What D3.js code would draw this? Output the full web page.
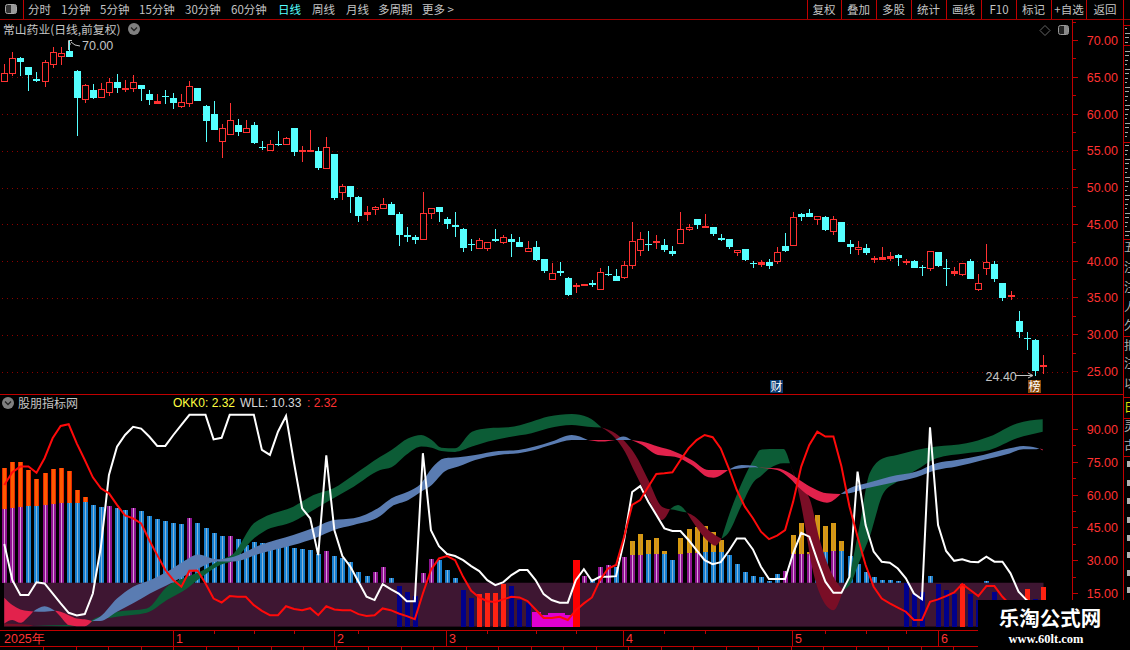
<!DOCTYPE html>
<html>
<head>
<meta charset="utf-8">
<script src="https://cdn.jsdelivr.net/npm/d3@7"></script>
<style>
  html, body { margin: 0; padding: 0; background: #000; overflow: hidden; }
  text { font-family: "Noto Sans CJK SC", sans-serif; }
  .num { font-family: "Liberation Sans", sans-serif; }
</style>
</head>
<body>
<svg id="chart" width="1130" height="650"></svg>
<script>
// candles
const openP = [64.40,65.54,67.62,66.35,64.77,64.40,66.76,67.80,68.57,65.81,61.96,63.27,62.23,62.95,64.36,63.36,63.50,63.95,62.73,61.46,62.46,62.18,61.05,61.46,63.54,61.10,60.01,56.25,57.25,58.47,57.47,58.47,55.57,55.03,55.93,55.89,58.11,54.93,54.98,54.98,52.58,54.57,49.45,50.22,48.73,46.46,47.00,47.21,47.80,46.35,43.49,43.22,42.99,46.53,47.30,45.67,44.85,44.44,42.36,41.86,41.86,42.95,42.68,42.95,42.54,41.36,41.99,40.23,37.65,38.60,37.65,36.60,36.74,36.97,36.20,38.19,38.05,37.83,39.46,41.50,42.40,42.59,42.13,41.45,42.45,44.35,45.67,44.67,44.58,43.17,42.95,41.22,41.59,39.69,39.59,39.86,39.95,42.08,42.13,46.43,46.57,45.66,46.03,44.03,45.35,42.36,41.59,41.81,40.27,40.27,40.41,40.86,39.86,40.05,39.14,39.05,41.27,39.09,38.37,38.19,40.05,36.15,39.05,39.64,37.05,35.24,31.89,29.58,29.31,25.68];
const closeP = [65.54,67.58,67.12,65.22,64.49,67.03,68.39,68.26,67.80,62.09,63.91,62.23,63.36,64.31,63.59,63.50,64.31,63.45,61.96,61.73,62.27,61.55,61.59,63.77,61.82,59.10,57.88,58.06,59.15,57.47,58.06,55.98,55.48,55.89,55.79,56.70,54.89,55.07,55.07,52.71,55.48,48.64,50.22,48.77,46.19,46.69,47.32,47.80,46.35,43.49,43.22,42.81,46.57,47.25,46.62,44.99,44.58,41.86,42.27,42.90,42.63,42.68,43.31,42.54,41.86,41.81,40.23,38.60,38.42,38.33,35.34,36.79,36.92,36.69,38.55,38.05,37.38,39.50,42.77,43.04,42.27,42.77,41.45,41.04,44.40,44.67,44.85,44.81,43.63,42.95,41.86,41.54,40.09,39.55,39.86,39.28,41.22,41.45,45.98,46.07,46.07,46.12,44.26,45.71,42.67,41.99,41.90,41.09,40.45,40.54,40.68,40.50,40.00,39.09,39.05,41.36,39.37,38.91,38.64,39.73,37.64,37.01,39.86,37.64,35.06,35.38,30.39,29.44,25.09,25.86];
const highP = [66.76,68.44,67.71,66.35,65.67,67.35,69.12,69.12,70.00,65.94,64.09,64.09,64.18,64.86,65.45,64.63,65.27,63.95,63.27,62.73,63.27,62.82,62.73,64.49,63.54,61.19,61.73,58.65,61.46,59.33,59.15,58.88,56.29,56.43,57.70,56.84,58.11,55.66,57.83,55.52,56.88,54.57,50.45,50.22,48.87,47.50,47.50,48.52,47.98,46.62,44.71,43.49,49.34,47.25,47.30,45.94,46.75,44.53,42.95,43.17,42.63,44.44,43.49,43.63,43.22,42.68,42.68,40.36,39.69,39.82,37.78,36.97,36.92,37.38,39.01,39.28,38.87,40.09,45.39,43.90,44.04,43.49,43.08,42.00,46.62,44.99,45.80,46.48,44.71,43.63,42.95,41.54,41.59,39.96,40.14,40.27,41.95,43.85,46.71,46.52,47.11,46.12,46.16,46.16,45.35,42.90,42.76,42.36,40.72,41.95,41.27,41.00,40.32,40.18,39.50,41.36,41.27,40.32,39.23,39.73,40.32,38.28,42.36,40.00,37.05,35.97,33.25,30.39,29.44,27.27];
const lowP = [64.40,65.17,65.17,63.18,64.31,63.68,66.31,66.72,67.80,57.06,61.55,62.00,62.14,62.50,62.91,63.05,63.05,61.78,61.28,61.46,61.37,60.69,60.87,61.01,61.82,56.25,57.88,54.07,57.25,57.06,57.38,55.98,55.12,54.93,55.70,55.75,54.35,53.53,54.80,52.44,52.58,48.32,48.32,46.51,45.37,45.51,46.28,47.03,46.35,42.00,42.54,42.27,42.86,45.80,45.26,44.31,43.22,41.18,41.45,41.59,41.45,42.54,42.27,40.50,41.86,41.36,40.09,38.33,37.51,38.05,35.20,35.74,36.56,36.42,36.20,37.92,37.38,37.51,38.87,40.77,41.32,41.59,41.18,40.77,42.45,44.04,44.31,44.49,43.36,42.68,41.72,40.77,39.96,39.01,39.14,39.00,39.68,41.31,42.13,45.48,45.94,44.94,44.12,43.58,42.54,41.00,40.86,40.86,39.77,40.18,40.05,39.41,39.50,39.09,38.01,38.69,39.23,36.65,38.01,38.01,37.64,35.97,38.14,37.19,34.65,34.74,29.58,27.95,24.40,24.69];
const priceTicks = [70, 65, 60, 55, 50, 45, 40, 35, 30, 25];

// indicator lines
const whiteLine = [37.7,21.2,14.4,14.4,20.2,19.7,15.1,10.6,6.3,5.1,5.7,15.1,36.4,69.2,82.1,87.4,91.1,90.3,86.7,82.4,82.4,87.4,92,96.6,96.6,96.6,85.4,86.1,96.6,96.6,96.6,96.6,80.6,78.3,88.9,96.1,74.5,53.9,49.4,32.6,78.1,44,32.2,27.3,20.5,13.6,12.1,19.4,17.1,15.1,11.6,11.6,79.1,44,36.7,33.1,32.2,30.3,27.6,25.3,21.2,18.9,20.3,23.5,25.8,25.8,21.2,14.8,12.1,10.9,10.9,21.2,26.2,20.8,22.7,22.7,23,39.5,61.4,64.1,57,50.9,44.8,43.6,43.6,39.5,34.9,30.3,28.5,29.4,34.5,40.2,40.2,35.2,27.3,21.7,21.7,21.7,33.4,42.8,41,30.3,20.5,15.4,15.4,22.7,70.7,46.3,34.2,29.6,29.1,26.5,22,15.1,12.5,90.9,46.3,34.5,30,30.7,29.6,29.4,31.9,29.6,29.6,24.3,15.9,12.1,9,7.5];
const redLine = [64.6,70.4,73,73,70.2,76.8,85.9,91.5,92.3,83.6,76,68.1,63.1,60.8,55.5,50.7,49.4,47.1,39.5,32.6,25.8,21.2,18.2,25.5,25.6,19.7,12.8,11,13.9,13.6,13.6,9.8,7.2,5.2,5.2,9.3,8,7.5,8.4,5.2,9.3,7.8,7.5,7.5,5.7,4.8,5.2,8.3,7.5,6,4.8,3.4,15.1,25.8,31.1,32.2,30.3,22.7,16.3,13.3,11.6,11.2,12.4,13.6,13.3,11.6,7.8,3.9,3.9,4.5,3,7.5,10.6,13.3,21.2,26.5,28.1,41,55.5,57.7,63.8,69.6,69.9,70.4,76,81.3,85.1,87.4,86.4,81.3,72.2,62.3,54.7,49.4,43.3,39.9,41.5,44,57,73,82.9,88.9,86.7,86.7,73,54.7,41,28.1,18.2,12.8,10.6,8.7,6.8,3,3,11.3,12.4,13.9,15.6,19.4,16.7,13.9,18.5,18.5,13.6,9.8,8.3,7.5,6.8,6];

// upper bars, p = purple, b = blue, - = none
const upVal = [53.6,54.2,54.5,55,55,55.5,55.9,56.4,56.4,56.4,56.8,55.5,54.5,55,54.1,53.2,54.1,52.7,50.4,49.1,48.2,47.2,46.8,49.5,47.2,45,42.7,41.3,41.3,39.9,37.2,38.7,38.1,38.1,37.7,37.2,35.8,35.4,34.9,33.1,34.5,32.2,31.3,29.4,24.9,23,24.9,27.2,22.1,null,null,null,24.4,30.8,30.3,25.8,22.1,null,null,null,null,null,null,null,null,null,null,null,null,null,null,null,23,21.7,27.2,28.1,27.2,31.7,32.6,32.6,33.1,33.1,33.1,30.3,33.1,33.5,33.5,34,34,34,32.6,28.5,24.9,23,22.6,20.8,24,25.3,33.1,33.1,33.1,34,34,34.5,34.5,32.2,28.5,24.9,22.6,21.2,21.2,20.8,null,null,null,23,null,null,null,null,null,null,20.8,null,null,null,null,null,null,null];
const upKind = "pppbbpppbbbbbpbbpbbbbbbpbbbbpbbbbbbbbbbbpbbbbbppb---ppbbb---------------pbppbpppbpbbpppbbbbbbbbbbppppbbpbbbbbbbbb---p------p-------";

// caps above the upper bars, o = orange, g = gold
const capIdx = [0,1,2,3,4,5,6,7,8,9,10,78,79,80,81,82,84,85,86,87,88,89,98,99,100,101,102,103,104];
const capVal = [72.4,75.1,75.1,71.4,67.3,70.1,71.9,72.4,71,62.3,59.1,39,42.2,39.5,40.4,34.5,40.4,44.5,45.4,45.9,43.1,39.5,41.8,47.2,33.9,50.9,45.9,47.2,39];
const capKind = "ooooooooooogggggggggggggggggg";

// lower bars, n = navy, r = red, m = magenta, R = wide red
const lowIdx = [49,50,51,57,58,59,60,61,62,63,64,65,66,67,68,69,70,71,112,113,114,116,117,118,119,120,121,123,124,125,126,127,128,129];
const lowVal = [18.5,15.7,13.9,16.7,13,14.8,15.3,15.3,19.4,18.5,12.1,10.6,6.6,5.2,6.1,6.1,5.2,30.3,19.8,14.8,15.7,19.4,16.7,14.8,19.4,14.8,12.1,15.7,10.6,10.6,10.6,17.1,12.5,18];
const lowKind = "nnnnnrrrrnnnmmmmmRnnnnnnrnnnnnnrnr";

// ribbon A, green / dark red
const bandAIdx = [0,3,3.6,7.75,10,10.9,14,17.7,20.2,22.7,24.3,26.8,28.5,31,32.2,35.9,38.4,40.9,43.4,46.7,48.1,50.2,51.8,53.1,54.3,56,58.1,60.1,62.6,65.5,67.6,70.5,72.5,74.2,75.9,77.1,78.4,80,81.7,82.7,83.7,84.8,85.8,87.5,88.3,89.1,89.9,91.6,93.3,93.9,95.1,96.8,97.6,98.6,99.7,100.1,101.3,103,104.2,105,106.3,107.5,109.2,110.9,113.3,115.8,119.5,122.4,125.8,129];
const bandAHi = [1.4,.8,.5,.7,.7,3,6.8,8.3,18.2,22.7,25,30.3,33.4,47.1,49.8,54.7,60,63.1,69.2,77.5,80.6,85.9,87.4,85.1,81.6,81.3,88.9,90.5,90.9,93.5,95.8,97,95.5,90.8,88.2,84.4,78.3,66.9,54.7,53.5,55.5,52,50.1,44,41.8,40.1,49.4,65.4,77.5,80.6,81,81,74.5,65.4,60.8,57.7,39.5,22.7,16.7,24.3,47.1,69.9,76.8,78.3,80.6,82.1,83.6,86.7,92.7,94.6];
const bandALo = [.2,.2,.5,.2,.4,2.2,4.5,6.3,12.1,17.4,22,28.1,30.3,40.2,43.3,47.9,53.2,58.5,63.8,71.4,72.7,79.1,82.1,81.6,80.1,79.7,82.1,84.4,86.4,88.2,90.5,92,91.2,90.8,85.9,79.8,69.9,58.5,48.6,53.5,52.9,52,46.3,38.7,36.9,40.1,42.5,55.5,66.9,68.4,72.2,74.5,74.5,62.3,41,31.9,15.1,7.5,16.7,18.9,30.3,41,60.8,66.1,71.4,76.8,79.1,80.6,85.9,88.9];
const bandADown = [[0,3.6],[74.2,82.7],[84.8,89.1],[97.6,104.2]];

// ribbon B, blue / crimson
const bandBIdx = [0,1,2,3,3.6,5,6.3,7,8,9,10,10.9,11.9,14,16,18.1,20.2,22.2,24.1,26.4,28.5,31.8,35.9,38.8,40.9,43.4,46.7,48.1,50.2,51.8,53.1,54.7,56.4,58.5,61.4,63.9,65.9,68,70.5,72.5,74.2,75.9,76.9,77.9,79.2,81.2,83.3,85.4,87.5,88.1,89.9,91.6,93.3,93.7,96,97.6,98.8,100.5,102.2,103.9,105,107.1,110,113.3,115.8,118.3,121.6,124.9,126.6,128.2,128.6,129];
const bandBHi = [13.2,9.8,7.8,7.1,6.9,9.3,7.2,6.8,5.2,3.7,3.3,2.6,4.5,12.8,18.2,21.2,25,29.6,32.9,30.7,31.9,37.2,41.8,45.6,48.6,49.4,54.7,58.5,61.6,65.4,72.2,76.8,77.2,78.3,80.1,80.6,82.1,84.4,87.4,85.1,85.1,85.1,86.7,85.1,84.4,82.1,79.8,76,71.4,71.4,71.4,73.7,73.3,72.5,72.2,69.9,66.9,63.1,60.8,60.5,63.1,65.4,68.4,70.7,74.5,76,78.3,81.3,82.4,81.6,81.2,80.9];
const bandBLo = [1.4,3,1.7,4.5,6.9,6.8,7.2,4.5,.7,.2,.2,2.6,2.6,6.8,10.6,15.1,18.9,22.7,26.5,29.7,29.7,33.4,37.2,40.7,44,46.3,50.4,54.7,57.7,61.6,64.6,70.7,73,76,78.3,79.1,80.6,82.9,85.1,85.1,84.4,85.1,85.1,85.1,82.9,78.3,77.5,73.7,68.1,67.9,71.4,72.2,72.7,72.5,71.4,67.6,63.1,58.5,56.5,60.5,60.8,63.1,65.4,68.1,71.4,73,76,79,80.9,80.9,81.2,80.3];
const bandBDown = [[0,3.6],[6.3,10.9],[72.5,75.9],[77.9,89.9],[93.7,103.9],[128.6,129]];

const indTicks = [90, 75, 60, 45, 30, 15];
const monthIdx = [20.9, 40.9, 54.9, 76.9, 97.9, 116];
const monthLabels = ["1", "2", "3", "4", "5", "6"];
const dateTickIdx = [26, 31, 36, 44, 60, 66, 71, 82, 87, 102, 107, 112, 121, 126];

const periodLabels = [["分时",28],["1分钟",61],["5分钟",100],["15分钟",139],["30分钟",185],["60分钟",231],["日线",278],["周线",312],["月线",346],["多周期",378],["更多 >",422]];
const toolLabels = [["复权",824],["叠加",858.5],["多股",893.5],["统计",928.5],["画线",963.5],["F10",999],["标记",1033.5],["+自选",1069],["返回",1105]];
const toolSeps = [807.5, 841.5, 876.5, 911.5, 946.5, 981.5, 1016.5, 1051.5, 1086.5];
const sideTabs = [["五",252],["注",272],["注",292],["人",312],["久",330],["扣",350],["注",368],["以",388]];

const W = 1130, H = 650;
const axisX = 1072.5;
const RED = "#c00000", TXT = "#c4c4c4", NUM = "#ff3232";
const svg = d3.select("#chart");
svg.append("rect").attr("width", W).attr("height", H).attr("fill", "#000");

const x = d3.scaleLinear().domain([0, 129]).range([4.3, 1042.7]);
const yP = d3.scaleLinear().domain([25, 70]).range([371.5, 40.5]);
const yI = d3.scaleLinear().domain([0, 90]).range([626.6, 429.3]);
const px = i => Math.round(x(i));

// price grid
const grid = svg.append("g").attr("shape-rendering", "crispEdges");
priceTicks.filter(d => d < 70).forEach(d => {
  grid.append("line").attr("x1", 2).attr("x2", axisX)
    .attr("y1", Math.round(yP(d)) + .5).attr("y2", Math.round(yP(d)) + .5)
    .attr("stroke", "#8c0000").attr("stroke-dasharray", "1 4");
});

// candles
const idx = d3.range(openP.length);
const candle = svg.append("g").attr("shape-rendering", "crispEdges")
  .selectAll("g").data(idx).join("g");
const isUp = i => closeP[i] >= openP[i];
const colorOf = i => isUp(i) ? "#ff3232" : "#55ffff";
candle.append("line")
  .attr("x1", i => px(i) + .5).attr("x2", i => px(i) + .5)
  .attr("y1", i => yP(highP[i])).attr("y2", i => yP(lowP[i]))
  .attr("stroke", colorOf);
candle.append("rect")
  .attr("x", i => isUp(i) ? px(i) - 2.5 : px(i) - 3)
  .attr("width", i => isUp(i) ? 6 : 7)
  .attr("y", i => Math.round(yP(Math.max(openP[i], closeP[i]))) + (isUp(i) ? .5 : 0))
  .attr("height", i => Math.max(1, Math.round(Math.abs(openP[i] - closeP[i]) * 7.356)))
  .attr("fill", i => isUp(i) ? (Math.abs(openP[i] - closeP[i]) < .3 ? "#ff3232" : "#000") : "#55ffff")
  .attr("stroke", i => isUp(i) ? "#ff3232" : "none");

// indicator: upper bars
const bars = svg.append("g").attr("shape-rendering", "crispEdges");
function bar(into, i, top, bottom, edge, core, w) {
  const xL = px(i) - Math.floor(w / 2);
  into.append("rect").attr("x", xL).attr("width", w)
    .attr("y", yI(top)).attr("height", yI(bottom) - yI(top)).attr("fill", edge);
  if (core) into.append("rect").attr("x", px(i)).attr("width", 1)
    .attr("y", yI(top)).attr("height", yI(bottom) - yI(top)).attr("fill", core);
}
capIdx.forEach((i, k) => {
  const gold = capKind[k] === "g";
  bar(bars, i, capVal[k], Math.max(upVal[i], 20), gold ? "#d89a10" : "#e62a00", gold ? "#c89030" : "#ff6000", 5);
  if (!gold) bars.append("rect").attr("x", px(i) - 1).attr("width", 3)
    .attr("y", yI(capVal[k])).attr("height", yI(upVal[i]) - yI(capVal[k])).attr("fill", "#ff5a00");
});
upVal.forEach((v, i) => {
  if (v === null) return;
  if (upKind[i] === "p") bar(bars, i, v, 20, "#8e1390", "#d8a0d8", 5);
  else bar(bars, i, v, 20, "#1880d0", "#8ab4d4", 5);
});

// purple band
svg.append("rect").attr("x", 4).attr("width", 1039.5)
  .attr("y", yI(20)).attr("height", yI(0) - yI(20)).attr("fill", "#3e1632");

// lower bars
const lowBars = svg.append("g").attr("shape-rendering", "crispEdges");
lowIdx.forEach((i, k) => {
  const kind = lowKind[k];
  if (kind === "n") bar(lowBars, i, lowVal[k], 0, "#00008c", null, 5);
  if (kind === "r") bar(lowBars, i, lowVal[k], 0, "#ff2212", null, 5);
  if (kind === "m") bar(lowBars, i, lowVal[k], 0, "#e000d0", null, 9);
  if (kind === "R") bar(lowBars, i, lowVal[k], 0, "#ff0000", null, 7);
});

// ribbons
function ribbon(idxs, hi, lo, downRanges, upColor, downColor) {
  const pts = idxs.map((d, k) => ({ i: d, hi: hi[k], lo: lo[k] }));
  const area = d3.area().x(d => x(d.i)).y0(d => yI(d.lo)).y1(d => yI(d.hi))
    .curve(d3.curveMonotoneX);
  // split at the crossings: every range edge is a knot
  const edges = [idxs[0]];
  downRanges.forEach(r => { edges.push(r[0], r[1]); });
  edges.push(idxs[idxs.length - 1]);
  const cuts = Array.from(new Set(edges)).sort((a, b) => a - b);
  for (let k = 0; k < cuts.length - 1; k++) {
    const a = cuts[k], b = cuts[k + 1];
    const down = downRanges.some(r => r[0] <= a && b <= r[1]);
    svg.append("path")
      .datum(pts.filter(d => d.i >= a && d.i <= b))
      .attr("d", area).attr("fill", down ? downColor : upColor);
  }
}
ribbon(bandAIdx, bandAHi, bandALo, bandADown, "#0c5c36", "#7a0e26");
ribbon(bandBIdx, bandBHi, bandBLo, bandBDown, "#5a7cb2", "#e2224c");

// indicator lines
const line = d3.line().x((d, i) => x(i)).y(d => yI(d));
svg.append("path").datum(whiteLine).attr("d", line).attr("fill", "none")
  .attr("stroke", "#fff").attr("stroke-width", 2);
svg.append("path").datum(redLine).attr("d", line).attr("fill", "none")
  .attr("stroke", "#ff0a0a").attr("stroke-width", 2);

// frame lines
const frame = svg.append("g").attr("shape-rendering", "crispEdges").attr("stroke", RED);
frame.append("line").attr("x1", 0).attr("x2", W).attr("y1", 19.5).attr("y2", 19.5).attr("stroke", "#a00000");
frame.append("line").attr("x1", 0).attr("x2", 1123).attr("y1", 394.5).attr("y2", 394.5).attr("stroke-width", 1.5);
frame.append("line").attr("x1", axisX).attr("x2", axisX).attr("y1", 19).attr("y2", 650).attr("stroke-width", 1.5);
frame.append("line").attr("x1", 1123.5).attr("x2", 1123.5).attr("y1", 0).attr("y2", 650);
frame.append("line").attr("x1", 0).attr("x2", axisX).attr("y1", 630.5).attr("y2", 630.5);
frame.append("line").attr("x1", 0).attr("x2", axisX).attr("y1", 646.5).attr("y2", 646.5);
frame.append("line").attr("x1", 23.5).attr("x2", 23.5).attr("y1", 0).attr("y2", 19);
toolSeps.forEach(s => frame.append("line").attr("x1", s).attr("x2", s).attr("y1", 0).attr("y2", 19));
[25, 45, 142, 239, 336, 397, 418, 456].forEach(s =>
  frame.append("line").attr("x1", 1123).attr("x2", W).attr("y1", s + .5).attr("y2", s + .5));

// right axes
const pAxis = svg.append("g");
priceTicks.forEach(d => {
  pAxis.append("line").attr("x1", axisX).attr("x2", axisX + 5).attr("y1", yP(d)).attr("y2", yP(d))
    .attr("stroke", RED).attr("shape-rendering", "crispEdges");
  pAxis.append("line").attr("x1", axisX).attr("x2", axisX + 3).attr("y1", yP(d + 2.5)).attr("y2", yP(d + 2.5))
    .attr("stroke", RED).attr("shape-rendering", "crispEdges");
  pAxis.append("text").attr("class", "num").attr("x", 1118).attr("y", yP(d) + 4.5)
    .attr("text-anchor", "end").attr("font-size", 12.5).attr("fill", NUM).text(d.toFixed(2));
});
indTicks.forEach(d => {
  pAxis.append("line").attr("x1", axisX).attr("x2", axisX + 5).attr("y1", yI(d)).attr("y2", yI(d))
    .attr("stroke", RED).attr("shape-rendering", "crispEdges");
  pAxis.append("line").attr("x1", axisX).attr("x2", axisX + 3).attr("y1", yI(d - 7.5)).attr("y2", yI(d - 7.5))
    .attr("stroke", RED).attr("shape-rendering", "crispEdges");
  pAxis.append("text").attr("class", "num").attr("x", 1118).attr("y", yI(d) + 4.5)
    .attr("text-anchor", "end").attr("font-size", 12.5).attr("fill", NUM).text(d.toFixed(2));
});

// date row
const dates = svg.append("g");
dates.append("text").attr("class", "num").attr("x", 4).attr("y", 643).attr("font-size", 12.5).attr("fill", NUM).text("2025年");
monthIdx.forEach((m, k) => {
  dates.append("line").attr("x1", px(m) + .5).attr("x2", px(m) + .5).attr("y1", 630).attr("y2", 646)
    .attr("stroke", RED).attr("shape-rendering", "crispEdges");
  dates.append("text").attr("class", "num").attr("x", px(m) + 3).attr("y", 643)
    .attr("font-size", 12.5).attr("fill", NUM).text(monthLabels[k]);
});
dateTickIdx.forEach(i => {
  dates.append("line").attr("x1", px(i) + .5).attr("x2", px(i) + .5).attr("y1", 630).attr("y2", 634)
    .attr("stroke", RED).attr("shape-rendering", "crispEdges");
});
d3.range(43, 1072, 32.5).forEach(t => {
  dates.append("line").attr("x1", Math.round(t) + .5).attr("x2", Math.round(t) + .5).attr("y1", 646).attr("y2", 650)
    .attr("stroke", RED).attr("shape-rendering", "crispEdges");
});

// toolbar
const labelText = (sel, s, tx, ty, fill, size, anchor) => sel.append("text")
  .attr("x", tx).attr("y", ty).attr("fill", fill).attr("font-size", size)
  .attr("text-anchor", anchor || "start").text(s);
periodLabels.forEach(d => labelText(svg, d[0], d[1], 14, d[0] === "日线" ? "#55ffff" : TXT, 11.5));
toolLabels.forEach(d => labelText(svg, d[0], d[1], 14, TXT, 11.5, "middle"));
svg.append("rect").attr("x", 5.5).attr("y", 4.5).attr("width", 11).attr("height", 9).attr("rx", 2)
  .attr("fill", "#333").attr("stroke", "#aaa");
svg.append("rect").attr("x", 11).attr("y", 5).attr("width", 5).attr("height", 8).attr("fill", "#999");

// title row
labelText(svg, "常山药业(日线,前复权)", 3, 34, TXT, 11.8);
function chevron(cx, cy) {
  svg.append("circle").attr("cx", cx).attr("cy", cy).attr("r", 6).attr("fill", "#808080");
  svg.append("path").attr("d", `M${cx - 3},${cy - 1.5}L${cx},${cy + 1.5}L${cx + 3},${cy - 1.5}`)
    .attr("fill", "none").attr("stroke", "#222").attr("stroke-width", 1.3);
}
chevron(134, 29);
svg.append("path").attr("d", "M1045,25.5L1050,30.5L1045,35.5L1040,30.5Z").attr("fill", "none").attr("stroke", "#666");
svg.append("rect").attr("x", 1058.5).attr("y", 25.5).attr("width", 10).attr("height", 9).attr("rx", 2)
  .attr("fill", "#222").attr("stroke", "#999");
svg.append("rect").attr("x", 1064).attr("y", 26).attr("width", 4).attr("height", 8).attr("fill", "#888");

// high and low notes
svg.append("path").attr("d", "M68.5,50V40.5H72M68.5,44H71M71,42L75,45L80,46").attr("fill", "none").attr("stroke", TXT);
svg.append("text").attr("class", "num").attr("x", 82).attr("y", 50).attr("font-size", 12.5).attr("fill", TXT).text("70.00");
svg.append("text").attr("class", "num").attr("x", 985.5).attr("y", 381).attr("font-size", 12.5).attr("fill", TXT).text("24.40");
svg.append("path").attr("d", "M1015,375.5H1032M1028,373L1033,375.5L1028,378").attr("fill", "none").attr("stroke", TXT);

// event badges
svg.append("rect").attr("x", 770).attr("y", 380).attr("width", 13).attr("height", 13).attr("fill", "#0a3a70");
labelText(svg, "财", 776.5, 391, "#fff", 12, "middle");
svg.append("rect").attr("x", 1028).attr("y", 380).attr("width", 13).attr("height", 13).attr("fill", "#8a4a0a");
labelText(svg, "榜", 1034.5, 391, "#fff", 12, "middle");

// indicator legend
chevron(8, 403);
labelText(svg, "股朋指标网", 18, 408, TXT, 12);
svg.append("text").attr("class", "num").attr("x", 173).attr("y", 407).attr("font-size", 12).attr("fill", "#ffff40").text("OKK0: 2.32");
svg.append("text").attr("class", "num").attr("x", 240).attr("y", 407).attr("font-size", 12).attr("fill", "#d8d8d8").text("WLL: 10.33");
svg.append("text").attr("class", "num").attr("x", 307).attr("y", 407).attr("font-size", 12).attr("fill", "#ff3232").text(": 2.32");

// clipped tab column at the far right
svg.append("clipPath").attr("id", "tabClip").append("rect").attr("x", 1124).attr("y", 0).attr("width", 6).attr("height", H);
const tabs = svg.append("g").attr("clip-path", "url(#tabClip)");
d3.range(28, 236, 4.5).forEach((t, k) => {
  if (t > 42 && t < 47 || t > 139 && t < 145) return;
  tabs.append("line").attr("x1", 1125).attr("x2", 1127 + (k * 7) % 4).attr("y1", Math.round(t) + .5).attr("y2", Math.round(t) + .5)
    .attr("stroke", "#a8a8a8").attr("shape-rendering", "crispEdges");
});
sideTabs.forEach(d => labelText(tabs, d[0], 1124, d[1], "#b0b0b0", 12));
labelText(tabs, "日", 1124, 412, "#e0e000", 12);
labelText(tabs, "灵", 1124, 431, "#b0b0b0", 12);
labelText(tabs, "古", 1124, 450, "#b0b0b0", 12);
[461, 480, 498, 517, 535, 552, 570, 587].forEach(t =>
  tabs.append("rect").attr("x", 1127).attr("y", t).attr("width", 3).attr("height", 6).attr("fill", "#b0b0b0"));

// watermark
svg.append("rect").attr("x", 978).attr("y", 600).attr("width", 152).attr("height", 50).attr("fill", "#000");
labelText(svg, "乐淘公式网", 1050, 626, "#fff", 20.5, "middle").attr("font-weight", "bold");
svg.append("text").attr("x", 1046).attr("y", 643).attr("text-anchor", "middle")
  .attr("font-size", 12.5).attr("font-weight", "bold").attr("fill", "#fff")
  .style("font-family", '"Liberation Serif", serif').text("www.60lt.com");
</script>
</body>
</html>
